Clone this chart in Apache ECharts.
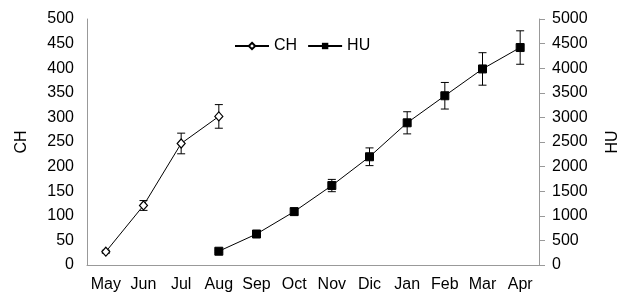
<!DOCTYPE html>
<html>
<head>
<meta charset="utf-8">
<script src="https://cdn.jsdelivr.net/npm/echarts@6/dist/echarts.min.js"></script>
<style>
html,body{margin:0;padding:0;background:#fff;}
#chart{width:618px;height:300px;}
</style>
</head>
<body>
<div id="chart"></div>
<script>
var months = ['May', 'Jun', 'Jul', 'Aug', 'Sep', 'Oct', 'Nov', 'Dic', 'Jan', 'Feb', 'Mar', 'Apr'];
// CH (left axis)
var chValues = [27, 121, 247, 302, null, null, null, null, null, null, null, null];
var chErr = [3, 10, 21, 24, null, null, null, null, null, null, null, null];
// HU (right axis)
var huValues = [null, null, null, 280, 630, 1085, 1615, 2200, 2890, 3440, 3985, 4420];
var huErr = [null, null, null, 20, 40, 70, 125, 180, 225, 270, 330, 340];
var leftTicks = [0, 500];
var rightTicks = [0, 5000];

var font = 'Liberation Sans, Arial, sans-serif';

// error bars, drawn through the axis scales
function errRender(params, api) {
    var i = api.value(0);
    var v = api.value(1);
    var e = api.value(2);
    var top = api.coord([i, v + e]);
    var bot = api.coord([i, v - e]);
    var w = 4;
    var style = { stroke: '#000', lineWidth: 1, fill: null };
    return {
        type: 'group',
        children: [
            { type: 'line', shape: { x1: top[0], y1: top[1], x2: bot[0], y2: bot[1] }, style: style },
            { type: 'line', shape: { x1: top[0] - w, y1: top[1], x2: top[0] + w, y2: top[1] }, style: style },
            { type: 'line', shape: { x1: bot[0] - w, y1: bot[1], x2: bot[0] + w, y2: bot[1] }, style: style }
        ]
    };
}

function errData(vals, errs) {
    var out = [];
    for (var i = 0; i < vals.length; i++) {
        if (vals[i] != null) out.push([i, vals[i], errs[i]]);
    }
    return out;
}

var chart = echarts.init(document.getElementById('chart'));
chart.setOption({
    animation: false,
    textStyle: { fontFamily: font },
    legend: {
        top: 33,
        left: 229,
        itemWidth: 34,
        itemHeight: 8,
        itemGap: 10,
        textStyle: { fontSize: 16, color: '#000', fontFamily: font },
        data: ['CH', 'HU']
    },
    grid: { left: 87, right: 79, top: 19, bottom: 35, outerBoundsMode: 'none', containLabel: false },
    xAxis: {
        type: 'category',
        data: months,
        boundaryGap: true,
        axisLine: { lineStyle: { color: '#999' } },
        axisTick: { show: false },
        axisLabel: { color: '#000', fontSize: 16, margin: 12, interval: 0, fontFamily: font }
    },
    yAxis: [{
        type: 'value',
        position: 'left',
        min: leftTicks[0],
        max: leftTicks[1],
        interval: 50,
        name: 'CH',
        nameLocation: 'middle',
        nameRotate: 90,
        nameGap: 57,
        nameTextStyle: { fontSize: 16, color: '#000', fontFamily: font },
        splitLine: { show: false },
        axisLine: { show: true, lineStyle: { color: '#999' } },
        axisTick: { show: false },
        axisLabel: { color: '#000', fontSize: 16, margin: 13, fontFamily: font }
    }, {
        type: 'value',
        position: 'right',
        min: rightTicks[0],
        max: rightTicks[1],
        interval: 500,
        name: 'HU',
        nameLocation: 'middle',
        nameRotate: 90,
        nameGap: 66,
        nameTextStyle: { fontSize: 16, color: '#000', fontFamily: font },
        splitLine: { show: false },
        axisLine: { show: true, lineStyle: { color: '#999' } },
        axisTick: { show: true, length: 6, lineStyle: { color: '#999' } },
        axisLabel: {
            color: '#000', fontSize: 16, margin: 13, fontFamily: font,
            formatter: function (v) { return String(v); }
        }
    }],
    series: [{
        name: 'CH',
        type: 'line',
        yAxisIndex: 0,
        data: chValues,
        symbol: 'diamond',
        symbolSize: [8, 9],
        showAllSymbol: true,
        lineStyle: { color: '#000', width: 1 },
        itemStyle: { color: '#fff', borderColor: '#000', borderWidth: 1.2 },
        z: 3
    }, {
        name: 'HU',
        type: 'line',
        yAxisIndex: 1,
        data: huValues,
        symbol: 'rect',
        symbolSize: 8,
        showAllSymbol: true,
        lineStyle: { color: '#000', width: 1 },
        itemStyle: { color: '#000', borderColor: '#000' },
        z: 3
    }, {
        type: 'custom',
        yAxisIndex: 0,
        renderItem: errRender,
        data: errData(chValues, chErr),
        encode: { x: 0, y: 1 },
        z: 2
    }, {
        type: 'custom',
        yAxisIndex: 1,
        renderItem: errRender,
        data: errData(huValues, huErr),
        encode: { x: 0, y: 1 },
        z: 2
    }]
});
</script>
</body>
</html>
